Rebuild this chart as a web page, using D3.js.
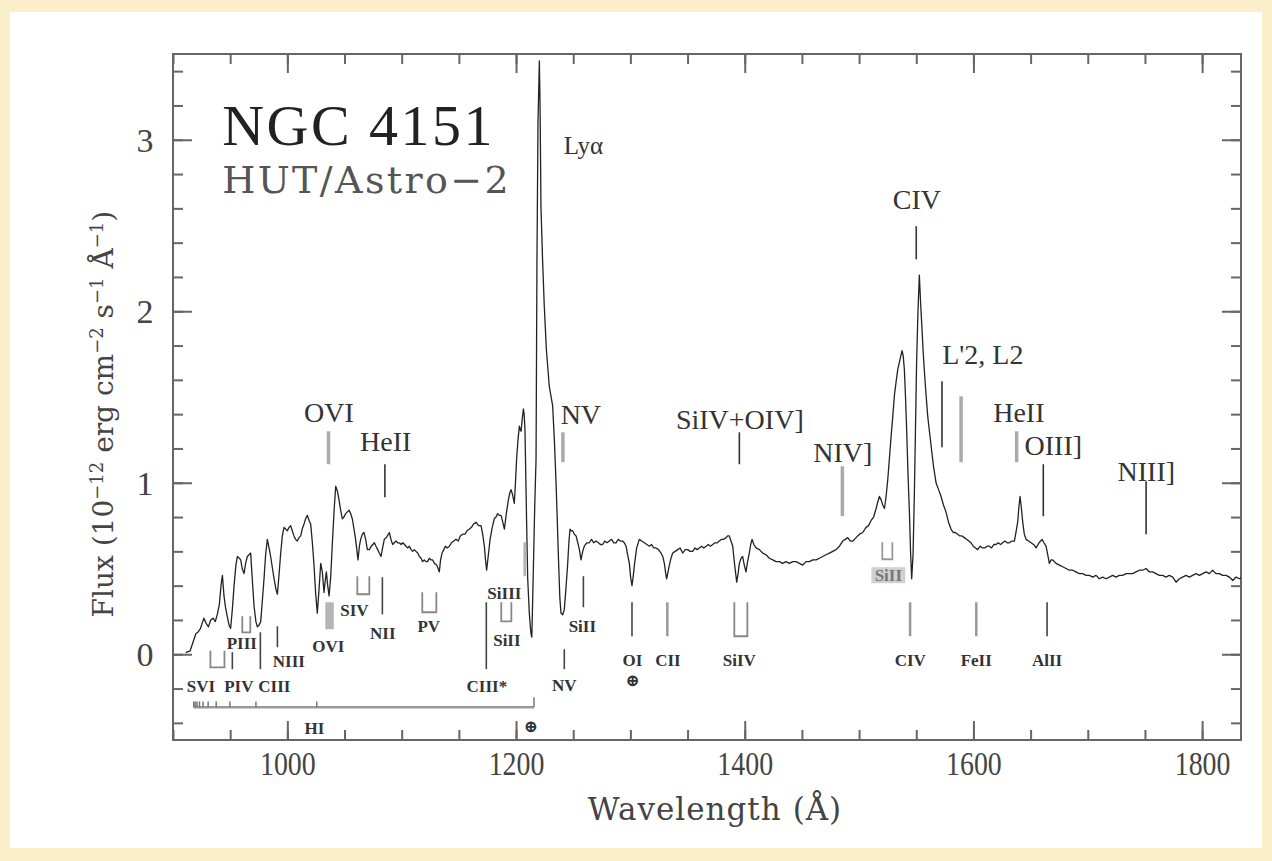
<!DOCTYPE html>
<html>
<head>
<meta charset="utf-8">
<script src="https://cdnjs.cloudflare.com/ajax/libs/d3/7.8.5/d3.min.js"></script>
<style>
    body { margin: 0; background: #fbeecb; }
    svg { display: block; }
</style>
</head>
<body>
<div id="chart"></div>
<script>

// HUT spectrum of NGC 4151 (wavelength in A, flux in 1e-12 erg/cm2/s/A)
var wave = [
    911, 915, 918, 920, 922, 924, 926, 927, 929, 931, 933, 935, 937, 939, 940.5, 942, 943.2, 944.6, 946, 947.5,
    949, 950.4, 952, 953.4, 955, 956.3, 958, 959.2, 960.5, 962.1, 963.5, 965, 966.5, 967.9, 969.5, 970.9, 972.5, 973.8, 975.2, 976.7,
    978, 979.6, 981, 982.5, 984, 985.4, 987, 988.4, 990, 991.3, 992.8, 994.2, 995.6, 997.1, 998.5, 1000, 1001.5, 1002.9, 1004.3, 1005.8,
    1007.2, 1008.7, 1010.2, 1011.7, 1013, 1014.6, 1016, 1017.5, 1019, 1020.4, 1022, 1023.3, 1024.8, 1026.2, 1027.7, 1029.2, 1030.6, 1032.1, 1033, 1034.1,
    1035.3, 1036.5, 1037.9, 1039.4, 1040.9, 1042.3, 1043.8, 1045.2, 1046.6, 1048.1, 1049.5, 1051, 1052.5, 1054, 1055.4, 1056.8, 1058.3, 1059.7, 1061.8, 1063,
    1064.1, 1065.6, 1067, 1068.5, 1070, 1071.7, 1073.5, 1076.1, 1077.5, 1079, 1080.4, 1081.9, 1083.3, 1084.8, 1086.5, 1089.2, 1090.6, 1092.1, 1093.5, 1095,
    1096.5, 1097.9, 1099.5, 1101, 1102.4, 1103.8, 1105.3, 1106.7, 1108.2, 1109.6, 1111, 1112.5, 1114, 1115.5, 1117, 1118.3, 1119.8, 1121.2, 1122.7, 1124.1,
    1125.6, 1127.1, 1128.6, 1130.6, 1131.8, 1132.9, 1134, 1135.3, 1136.8, 1138.2, 1139.8, 1141.7, 1143.6, 1145.5, 1147.5, 1149.4, 1151.3, 1153.3, 1155.3, 1157.2,
    1159.2, 1161, 1163, 1165, 1167.2, 1169.4, 1170.8, 1172.3, 1173.3, 1174.3, 1175.8, 1177.3, 1179.2, 1181, 1182.5, 1183.9, 1185.4, 1186.9, 1188.4, 1189.8,
    1191.5, 1193.3, 1194.5, 1195.6, 1197, 1198.5, 1199.5, 1200.5, 1201.7, 1202.9, 1203.6, 1204.4, 1205.4, 1206.4, 1207.1, 1207.8, 1208.5, 1209.3, 1210.2, 1211.6,
    1212.5, 1213.1, 1213.8, 1215, 1216.3, 1217.5, 1218.3, 1219.2, 1220.4, 1221, 1221.8, 1223.2, 1224.7, 1226.5, 1229.1, 1232, 1233.5, 1235, 1236.2, 1237.3,
    1238.3, 1239.3, 1240.8, 1242.2, 1243.6, 1245.1, 1246.2, 1247.2, 1248.3, 1249.5, 1251, 1252.5, 1254, 1255.4, 1256.8, 1258.3, 1259.7, 1261.8, 1264.1, 1266,
    1268, 1269.9, 1272, 1273.8, 1275.7, 1277.6, 1279.5, 1281.6, 1283.5, 1285.5, 1287.4, 1289.4, 1291.3, 1293.2, 1294.7, 1296.2, 1297.6, 1299.1, 1300.2, 1301.4,
    1302.4, 1303.5, 1305.5, 1307.8, 1309.8, 1312.2, 1314.4, 1316.6, 1318.5, 1320.4, 1322.4, 1324.6, 1326.8, 1328.3, 1329.7, 1330.7, 1331.7, 1332.9, 1334.1, 1335.5,
    1337, 1339.2, 1341.4, 1343.5, 1345.7, 1348, 1350.1, 1352.3, 1354.5, 1356.5, 1358.4, 1360.3, 1362.3, 1364.2, 1366.2, 1368.1, 1370, 1372, 1374, 1375.9,
    1377.8, 1379.8, 1381.7, 1383.7, 1385, 1386.5, 1388, 1389.5, 1391.2, 1393, 1394.2, 1395.3, 1396.8, 1398.2, 1399.6, 1401.1, 1402.5, 1404, 1405.2, 1406.4,
    1408, 1409.9, 1412.8, 1415.7, 1418.6, 1421.5, 1424.5, 1427.4, 1430.3, 1433.2, 1436.1, 1439, 1442, 1444.9, 1447.8, 1450.7, 1453.6, 1456.5, 1459.5, 1462.4,
    1465.3, 1468.2, 1471.1, 1474, 1477, 1479.9, 1482.8, 1485.7, 1487.9, 1490.1, 1492.3, 1494.5, 1497.4, 1500.3, 1503.2, 1506.1, 1508.3, 1510.5, 1512.7, 1514.9,
    1516.4, 1517.8, 1519.3, 1520.7, 1522.2, 1523.6, 1525.1, 1526.5, 1528, 1529.5, 1530.9, 1532.4, 1533.8, 1535.8, 1537.6, 1538.6, 1539.6, 1540.6, 1541.6, 1542.8,
    1544, 1545, 1546, 1547.2, 1548.3, 1549.3, 1550.3, 1551.5, 1552.7, 1553.8, 1555, 1556, 1557, 1558.5, 1560, 1561.5, 1562.9, 1565, 1567.3, 1569.5,
    1571.7, 1573.8, 1576, 1578.2, 1580.4, 1582.3, 1584.2, 1586.2, 1588.1, 1590, 1592, 1594, 1595.9, 1597.9, 1599.8, 1601.8, 1603.7, 1605.9, 1608.1, 1610,
    1611.9, 1613.9, 1615.9, 1617.8, 1619.8, 1621.7, 1623.7, 1625.6, 1627.5, 1629.5, 1631.4, 1633.6, 1635.8, 1637.2, 1638.7, 1639.8, 1640.8, 1642, 1643.1, 1644.5,
    1646, 1648.2, 1650.4, 1652.6, 1654.8, 1657.4, 1660, 1661.7, 1663.5, 1665, 1666.4, 1667.9, 1669.3, 1672.2, 1675.2, 1678.1, 1681, 1683.9, 1686.8, 1689.7,
    1692.6, 1695.6, 1698.5, 1701.4, 1704.3, 1707.2, 1710.1, 1713, 1716, 1718.9, 1721.8, 1724.7, 1727.6, 1730.5, 1733.5, 1736.4, 1739.3, 1742.2, 1745.1, 1748,
    1751, 1753.9, 1756.7, 1759.7, 1762.6, 1765.5, 1768.4, 1771.3, 1774.3, 1777.2, 1780.1, 1783, 1785.9, 1788.8, 1791.7, 1794.7, 1797.6, 1800.5, 1803.4, 1806.3,
    1809.2, 1812.1, 1815.1, 1818, 1820.9, 1823.8, 1826.8, 1829.7, 1832.6, 1835
];
var flux = [
    0.01, 0.02, 0.08, 0.12, 0.13, 0.15, 0.19, 0.21, 0.18, 0.16, 0.20, 0.21, 0.19, 0.24, 0.29, 0.40, 0.46, 0.34, 0.27, 0.22,
    0.17, 0.15, 0.27, 0.40, 0.52, 0.57, 0.56, 0.55, 0.50, 0.47, 0.53, 0.57, 0.58, 0.59, 0.42, 0.28, 0.19, 0.16, 0.17, 0.19,
    0.30, 0.44, 0.58, 0.67, 0.62, 0.57, 0.50, 0.44, 0.38, 0.35, 0.47, 0.59, 0.69, 0.74, 0.73, 0.72, 0.74, 0.75, 0.72, 0.69,
    0.67, 0.66, 0.68, 0.69, 0.73, 0.76, 0.79, 0.81, 0.78, 0.76, 0.64, 0.52, 0.35, 0.24, 0.38, 0.53, 0.48, 0.36, 0.42, 0.48,
    0.40, 0.34, 0.45, 0.65, 0.84, 0.98, 0.95, 0.90, 0.84, 0.79, 0.80, 0.82, 0.83, 0.84, 0.82, 0.79, 0.73, 0.67, 0.55, 0.63,
    0.67, 0.70, 0.71, 0.67, 0.61, 0.61, 0.63, 0.65, 0.63, 0.61, 0.59, 0.57, 0.62, 0.67, 0.68, 0.71, 0.67, 0.64, 0.65, 0.66,
    0.65, 0.65, 0.64, 0.65, 0.64, 0.63, 0.62, 0.63, 0.61, 0.60, 0.61, 0.60, 0.59, 0.57, 0.56, 0.54, 0.55, 0.54, 0.54, 0.56,
    0.55, 0.55, 0.53, 0.52, 0.50, 0.48, 0.55, 0.59, 0.61, 0.63, 0.62, 0.63, 0.65, 0.66, 0.67, 0.66, 0.69, 0.70, 0.70, 0.72,
    0.73, 0.74, 0.76, 0.77, 0.75, 0.75, 0.70, 0.63, 0.55, 0.49, 0.58, 0.67, 0.74, 0.79, 0.80, 0.82, 0.81, 0.81, 0.77, 0.73,
    0.82, 0.90, 0.94, 0.96, 0.93, 0.88, 1.00, 1.14, 1.25, 1.33, 1.31, 1.30, 1.37, 1.43, 1.40, 1.31, 1.05, 0.75, 0.44, 0.24,
    0.16, 0.12, 0.10, 0.45, 0.85, 1.14, 2.30, 3.10, 3.46, 3.20, 2.61, 2.30, 2.03, 1.78, 1.56, 1.45, 1.25, 1.00, 0.75, 0.52,
    0.33, 0.24, 0.23, 0.26, 0.38, 0.52, 0.65, 0.73, 0.72, 0.72, 0.70, 0.69, 0.65, 0.61, 0.55, 0.60, 0.63, 0.65, 0.65, 0.67,
    0.65, 0.66, 0.65, 0.64, 0.64, 0.66, 0.65, 0.66, 0.67, 0.65, 0.65, 0.67, 0.66, 0.66, 0.65, 0.63, 0.58, 0.53, 0.45, 0.40,
    0.45, 0.52, 0.62, 0.67, 0.66, 0.65, 0.64, 0.63, 0.64, 0.62, 0.62, 0.61, 0.59, 0.57, 0.53, 0.48, 0.44, 0.48, 0.52, 0.56,
    0.59, 0.60, 0.61, 0.62, 0.59, 0.61, 0.61, 0.60, 0.60, 0.62, 0.61, 0.62, 0.63, 0.62, 0.63, 0.64, 0.63, 0.64, 0.65, 0.65,
    0.66, 0.67, 0.67, 0.68, 0.69, 0.69, 0.66, 0.63, 0.52, 0.42, 0.47, 0.53, 0.56, 0.57, 0.52, 0.48, 0.54, 0.59, 0.64, 0.67,
    0.64, 0.62, 0.61, 0.59, 0.58, 0.56, 0.55, 0.54, 0.54, 0.53, 0.54, 0.53, 0.54, 0.54, 0.53, 0.52, 0.54, 0.54, 0.55, 0.55,
    0.56, 0.57, 0.58, 0.59, 0.60, 0.61, 0.63, 0.66, 0.67, 0.68, 0.66, 0.66, 0.68, 0.70, 0.71, 0.74, 0.75, 0.78, 0.80, 0.85,
    0.89, 0.92, 0.90, 0.87, 0.85, 0.92, 1.02, 1.14, 1.27, 1.39, 1.51, 1.59, 1.66, 1.72, 1.77, 1.74, 1.66, 1.50, 1.31, 1.05,
    0.83, 0.60, 0.44, 0.58, 0.92, 1.30, 1.70, 2.00, 2.21, 2.05, 1.90, 1.77, 1.66, 1.52, 1.39, 1.30, 1.22, 1.10, 1.00, 0.96,
    0.92, 0.87, 0.83, 0.77, 0.73, 0.71, 0.71, 0.70, 0.69, 0.69, 0.68, 0.67, 0.66, 0.65, 0.63, 0.62, 0.61, 0.63, 0.62, 0.62,
    0.63, 0.63, 0.62, 0.64, 0.64, 0.65, 0.64, 0.65, 0.66, 0.65, 0.65, 0.66, 0.66, 0.71, 0.77, 0.86, 0.92, 0.85, 0.77, 0.70,
    0.67, 0.66, 0.65, 0.64, 0.62, 0.65, 0.67, 0.65, 0.63, 0.58, 0.53, 0.55, 0.55, 0.53, 0.52, 0.51, 0.50, 0.49, 0.49, 0.48,
    0.47, 0.47, 0.46, 0.46, 0.45, 0.46, 0.44, 0.45, 0.44, 0.45, 0.46, 0.45, 0.46, 0.46, 0.47, 0.47, 0.47, 0.48, 0.49, 0.49,
    0.50, 0.48, 0.48, 0.47, 0.46, 0.46, 0.45, 0.46, 0.45, 0.42, 0.44, 0.45, 0.46, 0.45, 0.46, 0.47, 0.46, 0.47, 0.48, 0.47,
    0.49, 0.47, 0.47, 0.46, 0.46, 0.45, 0.43, 0.45, 0.44, 0.45
];

var xMajorTicks = [1000, 1200, 1400, 1600, 1800];
var yMajorTicks = [0, 1, 2, 3];

// emission-line ids above the spectrum: label centre (wave, flux)
var upperLabels = [
    {text: "OVI", w: 1036.3, f: 1.353},
    {text: "HeII", w: 1086, f: 1.184},
    {text: "Lyα", w: 1258.9, f: 2.915},
    {text: "NV", w: 1256.7, f: 1.341},
    {text: "SiIV+OIV]", w: 1395.7, f: 1.312},
    {text: "NIV]", w: 1485.8, f: 1.12},
    {text: "CIV", w: 1550.5, f: 2.595},
    {text: "L'2,  L2", w: 1608.2, f: 1.691},
    {text: "HeII", w: 1639.7, f: 1.353},
    {text: "OIII]", w: 1669.9, f: 1.16},
    {text: "NIII]", w: 1751.2, f: 1.009}
];
var upperTicks = [
    {w: 1036, top: 1.30, bot: 1.108, gray: true},
    {w: 1085.3, top: 1.108, bot: 0.915},
    {w: 1241, top: 1.294, bot: 1.12, gray: true},
    {w: 1395.3, top: 1.294, bot: 1.108},
    {w: 1485.4, top: 1.096, bot: 0.805, gray: true},
    {w: 1550, top: 2.496, bot: 2.303},
    {w: 1572.5, top: 1.592, bot: 1.207},
    {w: 1589.2, top: 1.504, bot: 1.12, gray: true},
    {w: 1637.8, top: 1.30, bot: 1.12, gray: true},
    {w: 1661.1, top: 1.108, bot: 0.805},
    {w: 1751, top: 1.009, bot: 0.70}
];

// absorption-line markers below the spectrum
var lowerMarks = [
    {type: "bracket", w1: 932.7, w2: 945, top: 0.02, bot: -0.076},
    {type: "tick", w1: 951.9, top: 0.012, bot: -0.087},
    {type: "bracket", w1: 960.6, w2: 967.6, top: 0.222, bot: 0.128},
    {type: "tick", w1: 976.4, top: 0.128, bot: -0.087},
    {type: "tick", w1: 991.3, top: 0.163, bot: 0.041},
    {type: "bar", w1: 1033.2, w2: 1040.6, top: 0.303, bot: 0.146},
    {type: "bracket", w1: 1061.2, w2: 1071.7, top: 0.455, bot: 0.35},
    {type: "tick", w1: 1083.1, top: 0.449, bot: 0.233},
    {type: "bracket", w1: 1118, w2: 1130.3, top: 0.362, bot: 0.245},
    {type: "tick", w1: 1174, top: 0.303, bot: -0.087},
    {type: "bracket", w1: 1187.1, w2: 1195.9, top: 0.303, bot: 0.192},
    {type: "bar", w1: 1206.4, w2: 1208.8, top: 0.653, bot: 0.455},
    {type: "tick", w1: 1242.2, top: 0.029, bot: -0.087},
    {type: "tick", w1: 1258.9, top: 0.455, bot: 0.274},
    {type: "tick", w1: 1301.4, top: 0.303, bot: 0.105},
    {type: "tick", w1: 1332.3, top: 0.303, bot: 0.105, gray: true},
    {type: "bracket", w1: 1390.9, w2: 1402.3, top: 0.303, bot: 0.105},
    {type: "bracket", w1: 1520.3, w2: 1529.1, top: 0.653, bot: 0.554, gray: true},
    {type: "tick", w1: 1544.6, top: 0.303, bot: 0.105, gray: true},
    {type: "tick", w1: 1602.5, top: 0.303, bot: 0.105, gray: true},
    {type: "tick", w1: 1664.4, top: 0.303, bot: 0.105}
];
var lowerLabels = [
    {text: "SVI", w: 924.4, f: -0.222},
    {text: "PIV", w: 957.6, f: -0.222},
    {text: "PIII", w: 960.2, f: 0.029},
    {text: "CIII", w: 988.6, f: -0.222},
    {text: "NIII", w: 1001.3, f: -0.076},
    {text: "OVI", w: 1035.9, f: 0.012},
    {text: "SIV", w: 1058.6, f: 0.222},
    {text: "NII", w: 1083.5, f: 0.087},
    {text: "PV", w: 1123.7, f: 0.128},
    {text: "SiIII", w: 1189.8, f: 0.321},
    {text: "SiII", w: 1192, f: 0.047},
    {text: "CIII*", w: 1174.5, f: -0.222},
    {text: "SiII", w: 1258, f: 0.128},
    {text: "NV", w: 1242.2, f: -0.216},
    {text: "OI", w: 1301.7, f: -0.07},
    {text: "⊕", w: 1302, f: -0.187},
    {text: "CII", w: 1332.8, f: -0.07},
    {text: "SiIV", w: 1395.3, f: -0.07},
    {text: "SiII", w: 1525.6, f: 0.426, boxed: true},
    {text: "CIV", w: 1544.8, f: -0.07},
    {text: "FeII", w: 1602.5, f: -0.07},
    {text: "AlII", w: 1664.4, f: -0.07},
    {text: "HI", w: 1023.6, f: -0.466},
    {text: "⊕", w: 1213, f: -0.455}
];

// interstellar HI Lyman series (bar along the bottom)
var lymanLines = [1215.67, 1025.72, 972.54, 949.74, 937.80, 930.75, 926.23, 923.15, 920.96, 919.35, 918.13];
var lymanBar = {w1: 918, w2: 1215.67, f: -0.309};

var W = 1272, H = 861;
var margin = {top: 54, right: 31, bottom: 121, left: 173},
    width = W - margin.left - margin.right,
    height = H - margin.top - margin.bottom;

var root = d3.select("#chart").append("svg")
    .attr("width", W)
    .attr("height", H);

// cream frame with white page inside
root.append("rect").attr("width", W).attr("height", H).attr("fill", "#fbeecb");
root.append("rect").attr("x", 10).attr("y", 12).attr("width", 1252).attr("height", 836).attr("fill", "#ffffff");

var svg = root.append("g")
    .attr("transform", "translate(" + margin.left + "," + margin.top + ")");

var x = d3.scaleLinear().domain([900, 1834]).range([0, width]);
var y = d3.scaleLinear().domain([-0.5, 3.5]).range([height, 0]);

var serif = "'Liberation Serif', 'DejaVu Serif', serif";

// axes: major + minor ticks pointing inwards on all four sides
var xMinor = d3.range(900, 1835, 50), yMinor = d3.range(-0.4, 3.5, 0.2).map(function (v) { return +v.toFixed(1); });

function axisGroup(axis, tx, ty) {
    var g = svg.append("g").attr("transform", "translate(" + tx + "," + ty + ")").call(axis);
    g.select(".domain").remove();
    g.selectAll("line").attr("stroke", "#666").attr("stroke-width", 2);
    return g;
}
axisGroup(d3.axisBottom(x).tickValues(xMinor).tickSize(-10).tickFormat(""), 0, height);
axisGroup(d3.axisTop(x).tickValues(xMinor).tickSize(-10).tickFormat(""), 0, 0);
axisGroup(d3.axisLeft(y).tickValues(yMinor).tickSize(-10).tickFormat(""), 0, 0);
axisGroup(d3.axisRight(y).tickValues(yMinor).tickSize(-10).tickFormat(""), width, 0);

var xb = axisGroup(d3.axisBottom(x).tickValues(xMajorTicks).tickSize(-19).tickPadding(12).tickFormat(d3.format("d")), 0, height);
axisGroup(d3.axisTop(x).tickValues(xMajorTicks).tickSize(-19).tickFormat(""), 0, 0);
var yl = axisGroup(d3.axisLeft(y).tickValues(yMajorTicks).tickSize(-19).tickPadding(20).tickFormat(d3.format("d")), 0, 0);
axisGroup(d3.axisRight(y).tickValues(yMajorTicks).tickSize(-19).tickFormat(""), width, 0);

xb.selectAll("text").attr("font-family", serif).attr("font-size", 34).attr("fill", "#444")
    .attr("transform", "scale(0.82,1)").attr("y", 12).attr("dy", "0.68em");
yl.selectAll("text").attr("font-family", serif).attr("font-size", 34).attr("fill", "#444")
    .attr("text-anchor", "middle").attr("x", -28).attr("dy", "0.34em");

svg.append("rect")
    .attr("width", width).attr("height", height)
    .attr("fill", "none").attr("stroke", "#666").attr("stroke-width", 2);

// axis titles
svg.append("text")
    .attr("x", x(1374)).attr("y", height + 80)
    .attr("text-anchor", "middle")
    .attr("font-family", "'DejaVu Serif', serif").attr("font-size", 31).attr("fill", "#444")
    .attr("letter-spacing", 1)
    .text("Wavelength (Å)");

var ytitle = svg.append("text")
    .attr("transform", "translate(-60," + y(1.4) + ") rotate(-90)")
    .attr("text-anchor", "middle")
    .attr("font-family", "'DejaVu Serif', serif").attr("font-size", 28).attr("fill", "#444");
[["Flux (10", false], ["−12", true], [" erg cm", false], ["−2", true], [" s", false], ["−1", true], [" Å", false], ["−1", true], [")", false]]
    .forEach(function (p) {
        ytitle.append("tspan")
            .attr("font-size", p[1] ? 18 : 28)
            .attr("baseline-shift", p[1] ? "55%" : null)
            .text(p[0]);
    });

// spectrum
svg.append("clipPath").attr("id", "plotclip")
    .append("rect").attr("width", width).attr("height", height);

var line = d3.line()
    .x(function (d, i) { return x(wave[i]); })
    .y(function (d, i) { return y(flux[i]); });

svg.append("path")
    .datum(flux)
    .attr("clip-path", "url(#plotclip)")
    .attr("d", line)
    .attr("fill", "none")
    .attr("stroke", "#222")
    .attr("stroke-width", 1.3)
    .attr("stroke-linejoin", "round");

// object title
svg.append("text")
    .attr("x", x(943)).attr("y", y(2.968))
    .attr("font-family", serif).attr("font-size", 58).attr("fill", "#222")
    .attr("letter-spacing", 2.5)
    .text("NGC 4151");
svg.append("text")
    .attr("x", x(943)).attr("y", y(2.688))
    .attr("font-family", "'DejaVu Serif', serif").attr("font-size", 38).attr("fill", "#555")
    .attr("letter-spacing", 2.4)
    .text("HUT/Astro−2");

// upper line ids
svg.selectAll(".uptick")
    .data(upperTicks)
    .enter().append("line")
    .attr("x1", function (d) { return x(d.w); })
    .attr("x2", function (d) { return x(d.w); })
    .attr("y1", function (d) { return y(d.top); })
    .attr("y2", function (d) { return y(d.bot); })
    .attr("stroke", function (d) { return d.gray ? "#aaa" : "#333"; })
    .attr("stroke-width", function (d) { return d.gray ? 3.5 : 1.6; });

svg.selectAll(".uplabel")
    .data(upperLabels)
    .enter().append("text")
    .attr("x", function (d) { return x(d.w); })
    .attr("y", function (d) { return y(d.f); })
    .attr("text-anchor", "middle")
    .attr("font-family", serif)
    .attr("font-size", function (d) { return d.text === "Lyα" ? 25 : 28; })
    .attr("fill", "#333")
    .text(function (d) { return d.text; });

// lower absorption markers
lowerMarks.forEach(function (d) {
    var col = d.gray ? "#999" : "#444", sw = d.gray ? 2.5 : 1.6;
    if (d.type === "tick") {
        svg.append("line")
            .attr("x1", x(d.w1)).attr("x2", x(d.w1))
            .attr("y1", y(d.top)).attr("y2", y(d.bot))
            .attr("stroke", col).attr("stroke-width", sw);
    } else if (d.type === "bracket") {
        svg.append("path")
            .attr("d", "M" + x(d.w1) + "," + y(d.top) + "V" + y(d.bot) + "H" + x(d.w2) + "V" + y(d.top))
            .attr("fill", "none").attr("stroke", d.gray ? "#999" : "#888").attr("stroke-width", 1.8);
    } else {
        svg.append("rect")
            .attr("x", x(d.w1)).attr("y", y(d.top))
            .attr("width", x(d.w2) - x(d.w1)).attr("height", y(d.bot) - y(d.top))
            .attr("fill", "#b5b5b5");
    }
});

lowerLabels.forEach(function (d) {
    if (d.boxed) {
        svg.append("rect")
            .attr("x", x(d.w) - 17).attr("y", y(d.f) - 14)
            .attr("width", 34).attr("height", 16)
            .attr("fill", "#d0d0d0");
    }
    svg.append("text")
        .attr("x", x(d.w)).attr("y", y(d.f))
        .attr("text-anchor", "middle")
        .attr("font-family", serif)
        .attr("font-weight", "bold")
        .attr("font-size", 17)
        .attr("fill", d.boxed ? "#777" : "#333")
        .text(d.text);
});

// HI bar with Lyman series ticks
svg.append("line")
    .attr("x1", x(lymanBar.w1)).attr("x2", x(lymanBar.w2))
    .attr("y1", y(lymanBar.f)).attr("y2", y(lymanBar.f))
    .attr("stroke", "#999").attr("stroke-width", 2.5);
svg.selectAll(".lyman")
    .data(lymanLines)
    .enter().append("line")
    .attr("x1", function (d) { return x(d); })
    .attr("x2", function (d) { return x(d); })
    .attr("y1", y(lymanBar.f))
    .attr("y2", function (d, i) { return i === 0 ? y(-0.25) : y(-0.275); })
    .attr("stroke", "#777").attr("stroke-width", 1.5);

</script>
</body>
</html>
